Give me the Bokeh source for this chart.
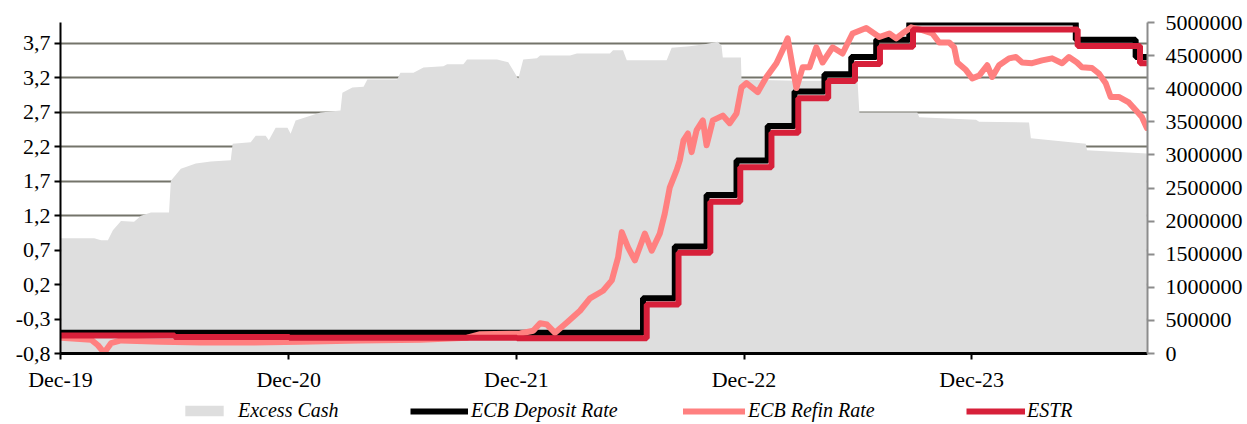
import pandas as pd
from bokeh.plotting import figure
from bokeh.layouts import column
from bokeh.models import (Range1d, LinearAxis, FixedTicker, CustomJSTickFormatter,
                          NumeralTickFormatter, DatetimeTickFormatter, Legend, LegendItem,
                          ColumnDataSource)
from bokeh.embed import file_html
from bokeh.resources import INLINE

# ---------------- data ----------------
cash_dates = ["2020-01-01", "2020-02-23", "2020-03-05", "2020-03-16", "2020-03-24", "2020-04-06",
              "2020-04-27", "2020-05-08", "2020-05-24", "2020-06-22", "2020-06-25", "2020-07-11",
              "2020-08-04", "2020-08-28", "2020-09-29", "2020-10-02", "2020-10-31", "2020-11-08",
              "2020-11-24", "2020-11-29", "2020-12-10", "2020-12-29", "2021-01-03", "2021-01-11",
              "2021-02-20", "2021-03-24", "2021-03-27", "2021-04-12", "2021-04-30", "2021-05-06",
              "2021-06-23", "2021-06-28", "2021-07-19", "2021-08-04", "2021-09-05", "2021-09-11",
              "2021-10-07", "2021-10-13", "2021-11-30", "2021-12-18", "2022-01-03", "2022-01-11",
              "2022-02-02", "2022-02-07", "2022-03-27", "2022-04-07", "2022-05-30", "2022-06-04",
              "2022-06-20", "2022-06-26", "2022-08-29", "2022-09-06", "2022-10-05", "2022-10-29",
              "2022-11-19", "2022-11-25", "2022-11-27", "2022-12-26", "2022-12-27", "2023-03-29",
              "2023-07-01", "2023-07-04", "2023-10-05", "2023-10-08", "2024-01-07", "2024-01-12",
              "2024-04-01", "2024-04-04", "2024-07-01", "2024-07-03", "2024-10-07"]
cash_values = [1740000, 1740000, 1710000, 1710000, 1860000, 2000000,
               1990000, 2080000, 2130000, 2130000, 2610000, 2790000,
               2870000, 2900000, 2920000, 3170000, 3190000, 3290000,
               3290000, 3220000, 3410000, 3410000, 3320000, 3520000,
               3640000, 3670000, 3940000, 4020000, 4030000, 4140000,
               4140000, 4240000, 4240000, 4320000, 4340000, 4370000,
               4370000, 4440000, 4440000, 4400000, 4150000, 4440000,
               4460000, 4500000, 4500000, 4530000, 4530000, 4580000,
               4580000, 4430000, 4430000, 4620000, 4640000, 4670000,
               4710000, 4650000, 4470000, 4470000, 4140000, 4120000,
               4120000, 3640000, 3640000, 3570000, 3530000, 3500000,
               3490000, 3250000, 3170000, 3070000, 3020000]

refin_dates = ["2020-01-01", "2020-02-18", "2020-02-29", "2020-03-10", "2020-03-21", "2020-04-06",
               "2020-06-09", "2020-08-12", "2020-10-31", "2021-01-19", "2021-04-25", "2021-07-30",
               "2021-10-13", "2021-11-03", "2022-01-06", "2022-01-27", "2022-02-07", "2022-02-18",
               "2022-03-03", "2022-03-22", "2022-04-12", "2022-04-28", "2022-05-19", "2022-06-02",
               "2022-06-12", "2022-06-18", "2022-06-28", "2022-07-09", "2022-07-25", "2022-08-05",
               "2022-08-18", "2022-08-26", "2022-09-03", "2022-09-14", "2022-09-19", "2022-09-25",
               "2022-10-02", "2022-10-08", "2022-10-16", "2022-10-26", "2022-11-01", "2022-11-11",
               "2022-11-27", "2022-12-08", "2022-12-19", "2022-12-27", "2023-01-04", "2023-01-22",
               "2023-02-05", "2023-02-21", "2023-03-03", "2023-03-11", "2023-03-19", "2023-03-25",
               "2023-04-04", "2023-04-15", "2023-04-26", "2023-05-06", "2023-05-22", "2023-06-07",
               "2023-06-23", "2023-07-15", "2023-08-05", "2023-08-21", "2023-09-01", "2023-09-11",
               "2023-09-25", "2023-10-13", "2023-10-29", "2023-11-09", "2023-11-25", "2023-12-03",
               "2023-12-08", "2023-12-22", "2024-01-01", "2024-01-12", "2024-01-25", "2024-02-02",
               "2024-02-13", "2024-02-29", "2024-03-11", "2024-03-21", "2024-04-06", "2024-04-22",
               "2024-05-08", "2024-05-24", "2024-06-04", "2024-06-17", "2024-06-25", "2024-07-11",
               "2024-07-22", "2024-08-02", "2024-08-10", "2024-08-23", "2024-09-08", "2024-09-19",
               "2024-09-29", "2024-10-07"]
refin_values = [-0.57, -0.60, -0.68, -0.79, -0.65, -0.61,
                -0.63, -0.64, -0.64, -0.63, -0.61, -0.60,
                -0.57, -0.52, -0.51, -0.47, -0.36, -0.38,
                -0.50, -0.35, -0.18, 0.00, 0.11, 0.26,
                0.59, 0.96, 0.74, 0.55, 0.94, 0.69,
                0.94, 1.23, 1.61, 1.86, 2.00, 2.29,
                2.39, 2.12, 2.44, 2.58, 2.22, 2.58,
                2.65, 2.54, 2.68, 3.06, 3.12, 2.99,
                3.21, 3.41, 3.60, 3.77, 3.35, 3.05,
                3.35, 3.35, 3.64, 3.42, 3.64, 3.55,
                3.84, 3.92, 3.79, 3.84, 3.77, 3.84,
                3.93, 3.89, 3.84, 3.71, 3.71, 3.64,
                3.42, 3.31, 3.19, 3.23, 3.38, 3.21,
                3.38, 3.48, 3.50, 3.42, 3.41, 3.45,
                3.48, 3.41, 3.50, 3.42, 3.35, 3.34,
                3.26, 3.12, 2.92, 2.92, 2.84, 2.73,
                2.63, 2.47]

deposit_dates = ["2019-12-31", "2022-07-22", "2022-09-11", "2022-11-01", "2022-12-19", "2023-02-07",
                 "2023-03-22", "2023-05-09", "2023-06-21", "2023-07-31", "2023-09-22", "2024-06-15",
                 "2024-09-19", "2024-10-08"]
deposit_values = [-0.50, 0.00, 0.75, 1.50, 2.00, 2.50, 3.00, 3.25, 3.50, 3.75, 4.00, 3.75, 3.50, 3.50]

estr_dates = ["2019-12-31", "2020-07-01", "2021-01-01", "2021-07-01", "2022-01-01", "2022-07-28",
              "2022-09-17", "2022-11-07", "2022-12-25", "2023-02-13", "2023-03-28", "2023-05-15",
              "2023-06-27", "2023-08-06", "2023-09-28", "2024-06-18", "2024-09-26", "2024-10-08"]
estr_values = [-0.54, -0.56, -0.57, -0.57, -0.58, -0.09, 0.66, 1.40, 1.90, 2.40, 2.90, 3.15,
               3.40, 3.65, 3.90, 3.66, 3.41, 3.41]

left_ticks = [-0.8, -0.3, 0.2, 0.7, 1.2, 1.7, 2.2, 2.7, 3.2, 3.7]
right_ticks = [0, 500000, 1000000, 1500000, 2000000, 2500000, 3000000, 3500000, 4000000,
               4500000, 5000000]
x_tick_dates = ["2019-12-31", "2020-12-31", "2021-12-31", "2022-12-31", "2023-12-31"]
x_start, x_end = "2019-12-31", "2024-10-08"

series_names = ["Excess Cash", "ECB Deposit Rate", "ECB Refin Rate", "ESTR"]
series_colors = ["#dedede", "#000000", "#ff8080", "#d7203a"]

# ---------------- helpers ----------------
def step_xy(dates, values):
    d = pd.to_datetime(dates)
    xs, ys = [], []
    for i in range(len(d)):
        if i > 0:
            xs.append(d[i]); ys.append(values[i - 1])
        xs.append(d[i]); ys.append(values[i])
    return xs, ys

SERIF = "Liberation Serif"
W = 1245

cash_src = ColumnDataSource(dict(x=pd.to_datetime(cash_dates), y=cash_values))
dx, dy = step_xy(deposit_dates, deposit_values)
dep_src = ColumnDataSource(dict(x=dx, y=dy))
ref_src = ColumnDataSource(dict(x=pd.to_datetime(refin_dates), y=refin_values))
ex, ey = step_xy(estr_dates, estr_values)
estr_src = ColumnDataSource(dict(x=ex, y=ey))

p = figure(width=W, height=398, x_axis_type="datetime",
           x_range=Range1d(pd.Timestamp(x_start), pd.Timestamp(x_end)),
           y_range=Range1d(-0.8, 4.0),
           output_backend="svg", toolbar_location=None,
           min_border_left=60, min_border_right=96, min_border_top=22, min_border_bottom=45)
p.outline_line_color = None
p.background_fill_color = "white"
p.extra_y_ranges = {"cash": Range1d(0, 5000000)}

# grid
p.xgrid.visible = False
p.ygrid.ticker = FixedTicker(ticks=left_ticks)
p.ygrid.grid_line_color = "#74746a"
p.ygrid.grid_line_width = 2

p.varea(x="x", y1=0, y2="y", source=cash_src, y_range_name="cash",
        fill_color=series_colors[0])
p.line("x", "y", source=dep_src, line_color=series_colors[1], line_width=6)
p.line("x", "y", source=ref_src, line_color=series_colors[2], line_width=6,
       line_join="round", line_cap="round")
p.line("x", "y", source=estr_src, line_color=series_colors[3], line_width=6)

# axes
xa = p.xaxis[0]
xa.ticker = FixedTicker(ticks=[pd.Timestamp(d).value // 10**6 for d in x_tick_dates])
xa.formatter = DatetimeTickFormatter(days="%b-%y", months="%b-%y", years="%b-%y",
                                     hours="%b-%y", minutes="%b-%y")
xa.axis_line_color = "black"
xa.axis_line_width = 3
xa.major_tick_line_color = "black"
xa.major_tick_line_width = 2
xa.major_tick_out = 6
xa.major_tick_in = 0
xa.minor_tick_line_color = None
xa.major_label_text_font = SERIF
xa.major_label_text_font_size = "22px"
xa.major_label_text_color = "black"
xa.major_label_standoff = 7

ya = p.yaxis[0]
ya.ticker = FixedTicker(ticks=left_ticks)
ya.formatter = CustomJSTickFormatter(code="return tick.toFixed(1).replace('.', ',');")
ya.axis_line_color = "black"
ya.axis_line_width = 2
ya.major_tick_line_color = "black"
ya.major_tick_line_width = 2
ya.major_tick_out = 6
ya.major_tick_in = 0
ya.minor_tick_line_color = None
ya.major_label_text_font = SERIF
ya.major_label_text_font_size = "22px"
ya.major_label_text_color = "black"
ya.major_label_standoff = 4

ra = LinearAxis(y_range_name="cash", ticker=FixedTicker(ticks=right_ticks),
                formatter=NumeralTickFormatter(format="0"))
ra.axis_line_color = "#8c8c8c"
ra.axis_line_width = 2
ra.major_tick_line_color = "#8c8c8c"
ra.major_tick_line_width = 2
ra.major_tick_out = 7
ra.major_tick_in = 0
ra.minor_tick_line_color = None
ra.major_label_text_font = SERIF
ra.major_label_text_font_size = "22px"
ra.major_label_text_color = "black"
ra.major_label_standoff = 11
p.add_layout(ra, "right")

# ---------------- legend strip (its frame is aligned with the main frame) ----------------
lg = figure(width=W, height=24, x_range=Range1d(0, 1), y_range=Range1d(0, 1),
            output_backend="svg", toolbar_location=None,
            min_border_left=0, min_border_right=0, min_border_top=0, min_border_bottom=0)
lg.axis.visible = False
lg.grid.visible = False
lg.outline_line_color = None

# same series, drawn far outside this strip's ranges (only their legend glyphs show)
k_area = lg.varea(x="x", y1=0, y2="y", source=cash_src, fill_color=series_colors[0])
k_dep = lg.line("x", "y", source=dep_src, line_color=series_colors[1], line_width=6)
k_ref = lg.line("x", "y", source=ref_src, line_color=series_colors[2], line_width=6,
                line_cap="round")
k_estr = lg.line("x", "y", source=estr_src, line_color=series_colors[3], line_width=6)

leg_specs = [(k_area, 120, 48, 13, 10), (k_dep, 350, 58, 14, 3),
             (k_ref, 623, 62, 14, 3), (k_estr, 906, 59, 14, 2)]
for name, (rend, lx, gw, gh, so) in zip(series_names, leg_specs):
    leg = Legend(items=[LegendItem(label=name, renderers=[rend])],
                 location=(lx, 0), orientation="horizontal",
                 glyph_width=gw, glyph_height=gh, label_standoff=so,
                 label_text_font=SERIF, label_text_font_style="italic",
                 label_text_font_size="20px", label_text_color="black",
                 label_height=21, padding=0, margin=0, spacing=0,
                 border_line_color=None, background_fill_alpha=0)
    lg.add_layout(leg)

open("out.html", "w").write(file_html(column(p, lg, spacing=0), INLINE))
